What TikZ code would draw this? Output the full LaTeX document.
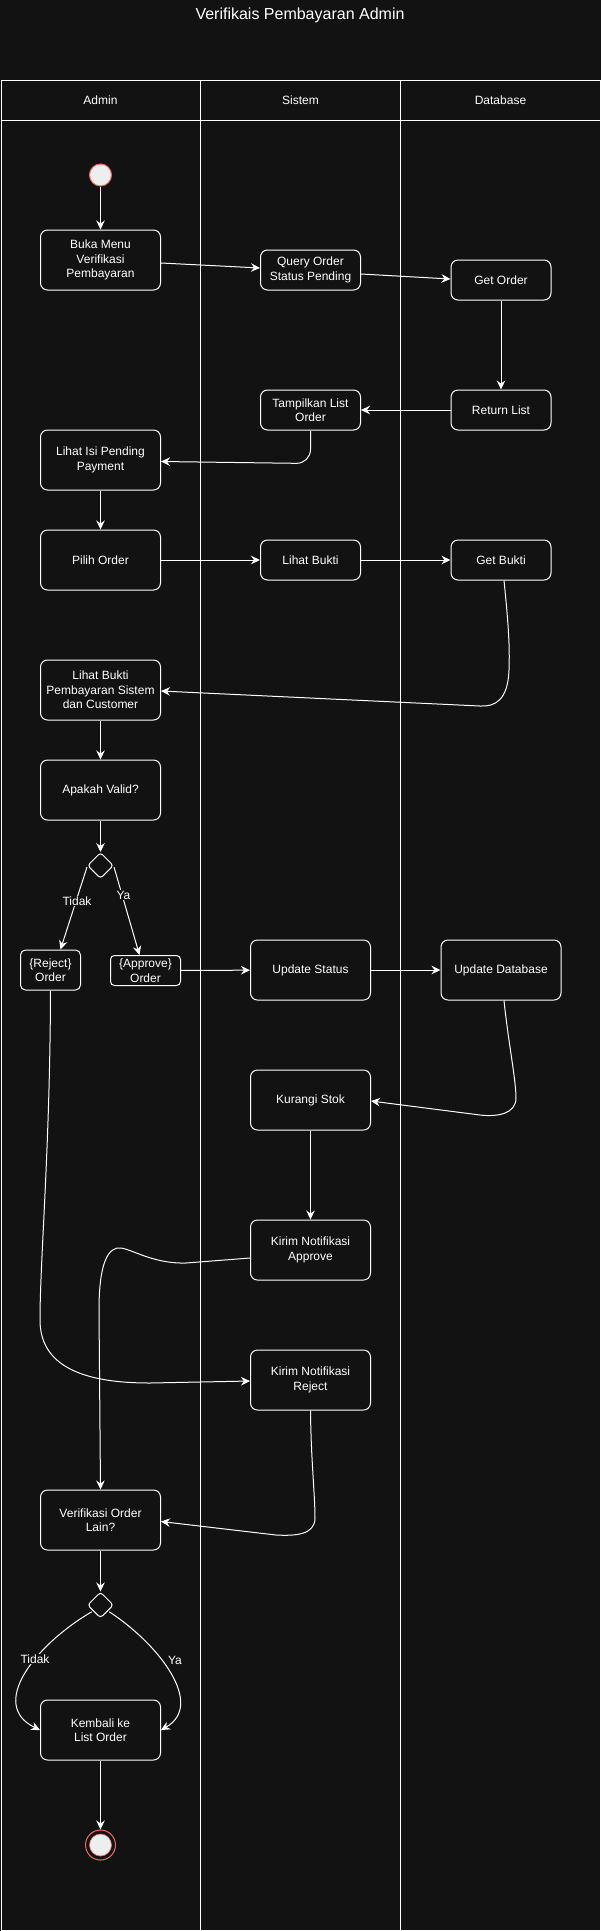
\documentclass[tikz,border=0pt]{standalone}
\usepackage{fontspec}
\setmainfont{Liberation Sans}
\usetikzlibrary{arrows.meta,shapes.geometric,calc}
\definecolor{bg}{RGB}{18,18,18}
\definecolor{startred}{RGB}{234,107,102}
\definecolor{startfill}{RGB}{238,238,238}
\begin{document}
\begin{tikzpicture}[x=1pt,y=-1pt,
  act/.style={draw=white, line width=1pt, rounded corners=7pt, fill=bg, text=white, align=center, inner sep=0pt, font=\fontsize{12}{14.4}\selectfont},
  big/.style={act, minimum width=120pt, minimum height=60pt},
  small/.style={act, minimum width=100pt, minimum height=40pt},
  arr/.style={draw=white, line width=1pt, -{Stealth[length=9pt,width=8.5pt,inset=3pt]}},
  lbl/.style={fill=bg, text=white, inner sep=1pt, font=\fontsize{12}{14.4}\selectfont},
  hdr/.style={text=white, inner sep=0pt, font=\fontsize{12}{14.4}\selectfont},
  lane/.style={draw=white, line width=1pt},
  dec/.style={diamond, draw=white, line width=1pt, fill=bg, minimum width=26pt, minimum height=26pt, inner sep=0pt, rounded corners=3pt}
]
\useasboundingbox (0,0) rectangle (601,1931);
\fill[bg] (0,0) rectangle (601,1931);

% title and lanes
\node[text=white, font=\fontsize{16}{19}\selectfont] (title) at (300,15) {Verifikais Pembayaran Admin};
\draw[lane] (1,80) rectangle (600,1930);
\draw[lane] (1,120) -- (600,120);
\draw[lane] (200.5,80) -- (200.5,1930);
\draw[lane] (400.5,80) -- (400.5,1930);
\node[hdr] (hadmin) at (100.5,100) {Admin};
\node[hdr] (hsistem) at (300.5,100) {Sistem};
\node[hdr] (hdb) at (500.5,100) {Database};

% nodes
\node[circle, draw=startred, fill=startfill, line width=1pt, minimum size=22pt, inner sep=0pt] (start) at (100.5,175) {};
\node[big] (buka) at (100.5,260) {Buka Menu\\Verifikasi\\Pembayaran};
\node[small] (query) at (310.5,270) {Query Order\\Status Pending};
\node[small] (getorder) at (501,280) {Get Order};
\node[small] (retlist) at (501,410) {Return List};
\node[small] (tampil) at (310.5,410) {Tampilkan List\\Order};
\node[big] (lihatisi) at (100.5,460) {Lihat Isi Pending\\Payment};
\node[big] (pilih) at (100.5,560) {Pilih Order};
\node[small] (lbukti) at (310.5,560) {Lihat Bukti};
\node[small] (gbukti) at (501,560) {Get Bukti};
\node[big] (lbp) at (100.5,690) {Lihat Bukti\\Pembayaran Sistem\\dan Customer};
\node[big] (valid) at (100.5,790) {Apakah Valid?};
\node[dec] (dec1) at (100.5,865.5) {};
\node[act, minimum width=60pt, minimum height=40pt, rounded corners=5pt] (reject) at (50.5,970) {\{Reject\}\\Order};
\node[act, minimum width=70pt, minimum height=30pt, rounded corners=4pt] (approve) at (145.5,970.5) {\{Approve\}\\Order};
\node[big] (updst) at (310.5,970) {Update Status};
\node[big] (upddb) at (501,970) {Update Database};
\node[big] (kurangi) at (310.5,1100) {Kurangi Stok};
\node[big] (kirima) at (310.5,1250) {Kirim Notifikasi\\Approve};
\node[big] (kirimr) at (310.5,1380) {Kirim Notifikasi\\Reject};
\node[big] (verlain) at (100.5,1520) {Verifikasi Order\\Lain?};
\node[dec] (dec2) at (100.5,1605) {};
\node[big] (kembali) at (100.5,1730) {Kembali ke\\List Order};
\node[circle, draw=startred, line width=1pt, minimum size=30pt, inner sep=0pt] (end) at (100.5,1845) {};
\node[circle, draw=startred, fill=startfill, line width=0.6pt, minimum size=22pt, inner sep=0pt] (endin) at (end.center) {};

% connectors
\draw[arr] (start) -- (buka);
\draw[arr] ($(buka.east)+(0,3)$) -- ($(query.west)+(0,-2)$);
\draw[arr] ($(query.east)+(0,4)$) -- ($(getorder.west)+(0,-1)$);
\draw[arr] (getorder) -- (retlist);
\draw[arr] (retlist) -- (tampil);
\draw[arr, rounded corners=14pt] (tampil.south) -- ($(tampil.south)+(0,33)$) -- ($(lihatisi.east)+(0,1.5)$);
\draw[arr] (lihatisi) -- (pilih);
\draw[arr] (pilih) -- (lbukti);
\draw[arr] (lbukti) -- (gbukti);
\draw[arr] ($(gbukti.south)+(3,0)$) .. controls (508,620) and (510,645) .. (509,670)
  .. controls (508,700) and (495,707) .. (480,706) -- ($(lbp.east)+(0,1)$);
\draw[arr] (lbp) -- (valid);
\draw[arr] (valid) -- (dec1);
\draw[arr] ($(dec1.west)+(0,1.5)$) -- ($(reject.north)+(10,0)$);
\draw[arr] ($(dec1.east)+(0,1.5)$) -- ($(approve.north)+(-6,0)$);
\node[lbl] (ltidak1) at (77,901) {Tidak};
\node[lbl] (lya1) at (123.5,895) {Ya};
\draw[arr] (approve) -- (updst);
\draw[arr] (updst) -- (upddb);
\draw[arr] ($(upddb.south)+(3,0)$) .. controls (508,1040) and (516,1080) .. (516,1098)
  .. controls (516,1114) and (497,1117) .. (480,1115) -- ($(kurangi.east)+(0,1)$);
\draw[arr] (kurangi) -- (kirima);
\draw[arr] ($(kirima.west)+(0,8)$) -- (186,1263) .. controls (150,1264) and (128,1246) .. (117,1248)
  .. controls (104,1251) and (99,1275) .. (99,1310) -- (verlain.north);
\draw[arr] (reject.south) .. controls (50,1150) and (40,1260) .. (40,1320)
  .. controls (40,1372) and (95,1383) .. (150,1383) -- ($(kirimr.west)+(0,1)$);
\draw[arr] (kirimr.south) .. controls (311,1460) and (315,1495) .. (315,1518)
  .. controls (315,1535) and (295,1536) .. (276,1535) -- ($(verlain.east)+(0,1.5)$);
\draw[arr] (verlain) -- (dec2);
\draw[arr] ($(dec2.south west)+(-2,0)$) .. controls (35,1645) and (-12,1705) .. (kembali.west);
\draw[arr] ($(dec2.south east)+(2,0)$) .. controls (160,1645) and (205,1705) .. (kembali.east);
\node[lbl] (ltidak2) at (35,1659) {Tidak};
\node[lbl] (lya2) at (175,1660) {Ya};
\draw[arr] (kembali) -- (end);
\end{tikzpicture}
\end{document}
